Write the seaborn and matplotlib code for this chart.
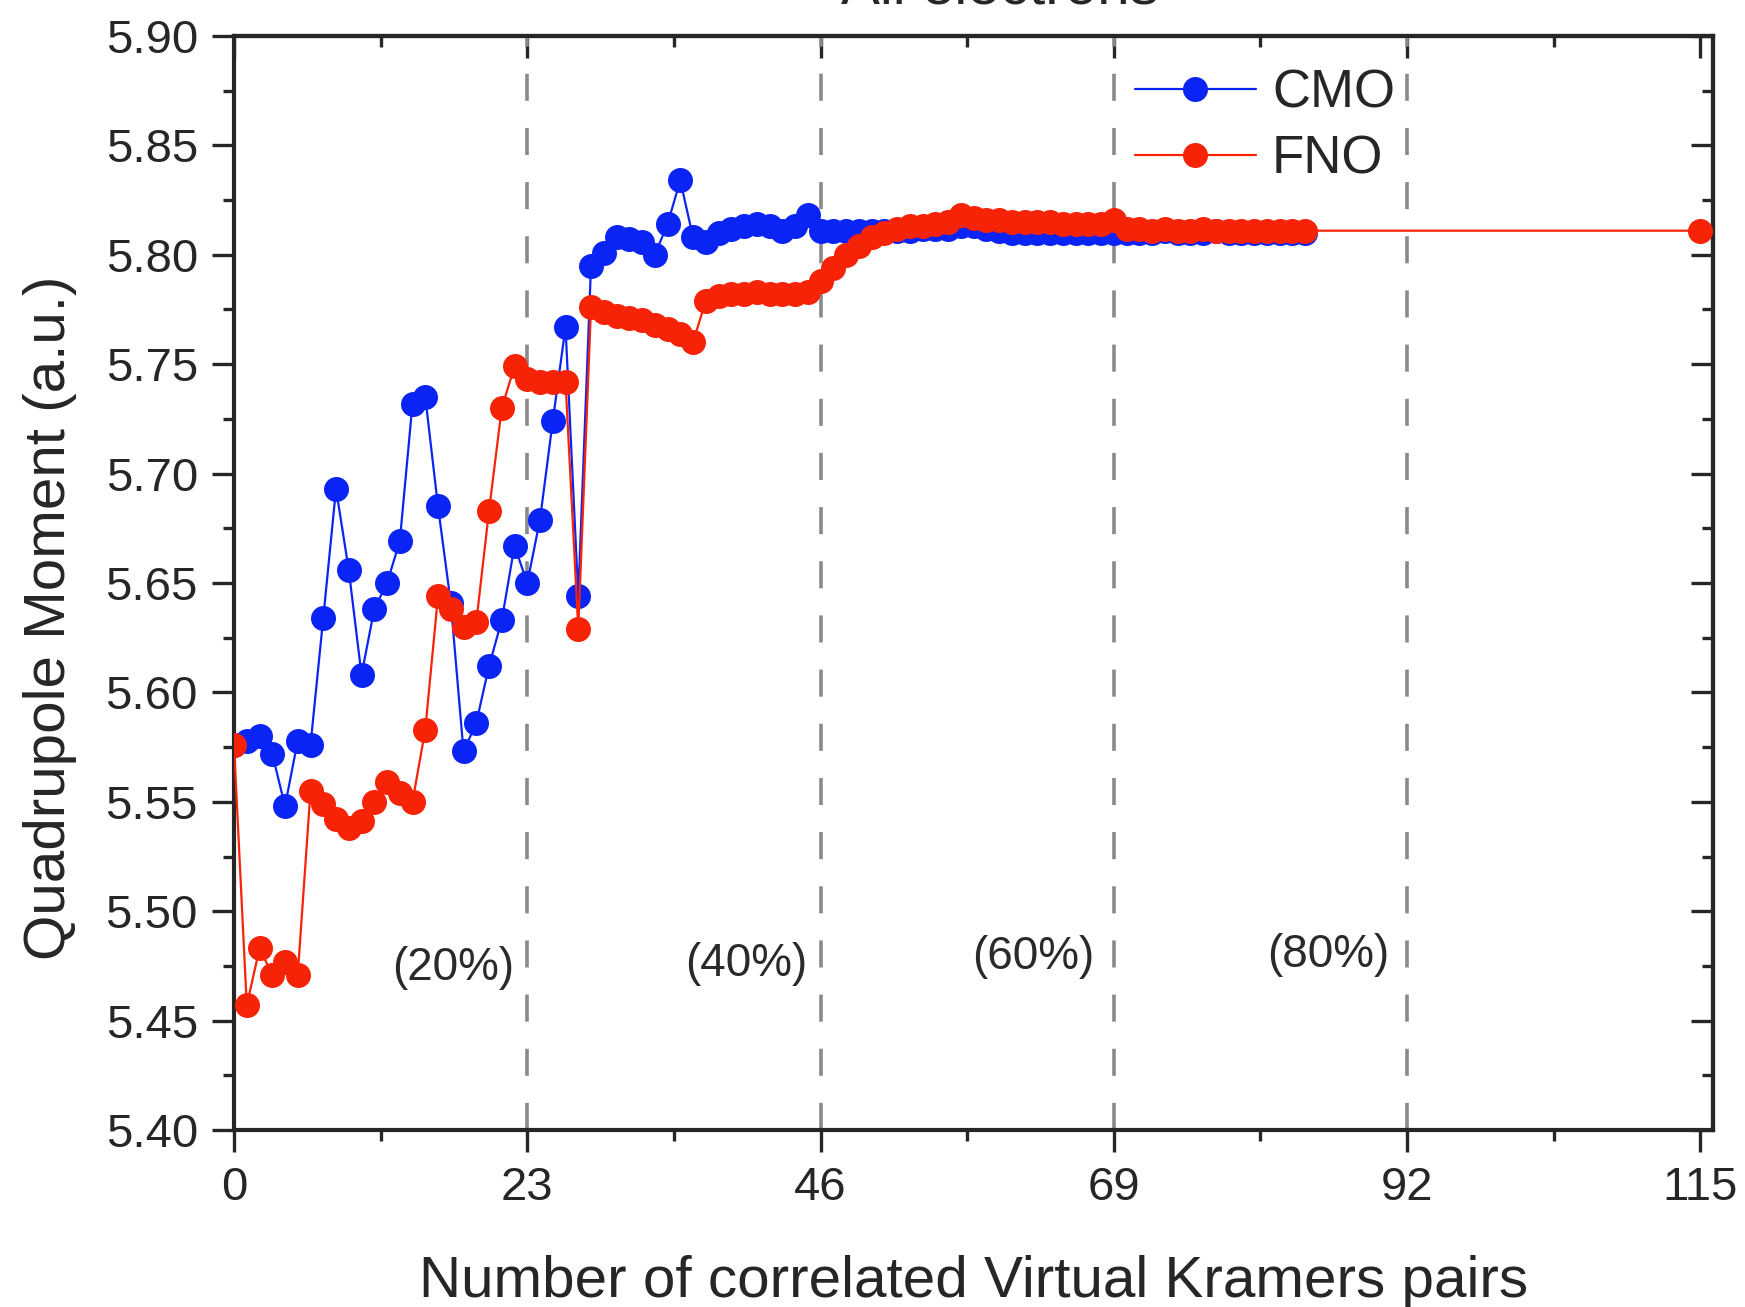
import numpy as np
import pandas as pd
import matplotlib
matplotlib.use("Agg")
import matplotlib.pyplot as plt
import seaborn as sns

blue = '#0b24f6'
red = '#f72306'
gray = '#8a8a8a'

# number of correlated pairs (one point per pair count)
pairs = list(range(85))

cmo = [5.576, 5.578, 5.580, 5.572, 5.548, 5.578, 5.576, 5.634, 5.693, 5.656,
       5.608, 5.638, 5.650, 5.669, 5.732, 5.735, 5.685, 5.641, 5.573, 5.586,
       5.612, 5.633, 5.667, 5.650, 5.679, 5.724, 5.767, 5.644, 5.795, 5.801,
       5.808, 5.807, 5.806, 5.800, 5.814, 5.834, 5.808, 5.806, 5.810, 5.812,
       5.813, 5.814, 5.813, 5.811, 5.813, 5.818, 5.811, 5.811, 5.811, 5.811,
       5.811, 5.811, 5.811, 5.811, 5.812, 5.812, 5.812, 5.813, 5.813, 5.812,
       5.811, 5.810, 5.810, 5.810, 5.810, 5.810, 5.810, 5.810, 5.810, 5.810,
       5.810, 5.810, 5.810, 5.811, 5.810, 5.810, 5.810, 5.811, 5.810, 5.810,
       5.810, 5.810, 5.810, 5.810, 5.810]

fno = [5.576, 5.457, 5.483, 5.471, 5.477, 5.471, 5.555, 5.549, 5.542, 5.538,
       5.541, 5.550, 5.559, 5.554, 5.550, 5.583, 5.644, 5.638, 5.630, 5.632,
       5.683, 5.730, 5.749, 5.743, 5.742, 5.742, 5.742, 5.629, 5.776, 5.774,
       5.772, 5.771, 5.770, 5.768, 5.766, 5.764, 5.760, 5.779, 5.781, 5.782,
       5.782, 5.783, 5.782, 5.782, 5.782, 5.783, 5.788, 5.794, 5.800, 5.804,
       5.808, 5.810, 5.812, 5.813, 5.813, 5.814, 5.815, 5.818, 5.817, 5.816,
       5.816, 5.815, 5.815, 5.815, 5.815, 5.814, 5.814, 5.814, 5.814, 5.816,
       5.812, 5.812, 5.811, 5.812, 5.811, 5.811, 5.812, 5.811, 5.811, 5.811,
       5.811, 5.811, 5.811, 5.811, 5.811]
fno_last_x = 115
fno_last = 5.811

region_x = [23, 46, 69, 92]
region_labels = ['(20%)', '(40%)', '(60%)', '(80%)']
label_pos_x = [17.2, 40.2, 62.7, 85.8]
label_pos_y = [5.474, 5.476, 5.479, 5.480]

cmo_df = pd.DataFrame({'pairs': pairs, 'Q': cmo})
fno_df = pd.DataFrame({'pairs': pairs + [fno_last_x], 'Q': fno + [fno_last]})

sns.set_style('ticks')
plt.rcParams['font.family'] = ['Liberation Sans', 'DejaVu Sans']

fig = plt.figure(figsize=(17.45, 13.07), dpi=100)
ax = fig.add_axes([0.1341, 0.1354, 0.8476, 0.8371])

for xv in region_x:
    ax.axvline(xv, color=gray, lw=2.6, linestyle=(0, (7.5, 7.5)), zorder=1)

sns.lineplot(data=cmo_df, x='pairs', y='Q', ax=ax, color=blue, lw=1.6,
             marker='o', markersize=18, markeredgewidth=0, sort=False,
             estimator=None, label='CMO', zorder=3)
sns.lineplot(data=fno_df, x='pairs', y='Q', ax=ax, color=red, lw=1.6,
             marker='o', markersize=18, markeredgewidth=0, sort=False,
             estimator=None, label='FNO', zorder=4)

for xt, yt, t in zip(label_pos_x, label_pos_y, region_labels):
    ax.text(xt, yt, t, ha='center', va='center', fontsize=33, color='#2a2a2a')

ax.set_xlim(0, 116)
ax.set_ylim(5.40, 5.90)
xmaj = [0, 23, 46, 69, 92, 115]
xmin = [11.5, 34.5, 57.5, 80.5, 103.5]
ymaj = np.round(np.arange(5.40, 5.901, 0.05), 2)
ymin = np.round(np.arange(5.425, 5.90, 0.05), 3)
ax.set_xticks(xmaj)
ax.set_xticks(xmin, minor=True)
ax.set_yticks(ymaj)
ax.set_yticks(ymin, minor=True)
ax.yaxis.set_major_formatter(matplotlib.ticker.FormatStrFormatter('%.2f'))

for s in ax.spines.values():
    s.set_linewidth(3)
    s.set_visible(True)

ax.tick_params(which='major', direction='out', length=16, width=2.4,
               labelsize=34, pad=10, top=False, right=False)
ax.tick_params(which='minor', direction='out', length=8, width=2.4,
               top=False, right=False)

# inward ticks on top and right
top = ax.secondary_xaxis('top')
top.set_xticks(xmaj)
top.set_xticks(xmin, minor=True)
top.set_xticklabels([])
right = ax.secondary_yaxis('right')
right.set_yticks(ymaj)
right.set_yticks(ymin, minor=True)
right.set_yticklabels([])
for sec, pos in [(top, 'top'), (right, 'right')]:
    sec.tick_params(which='major', direction='in', length=16, width=2.4, pad=0)
    sec.tick_params(which='minor', direction='in', length=8, width=2.4)
    sec.spines[pos].set_linewidth(3)

ax.set_xlabel('Number of correlated Virtual Kramers pairs', fontsize=42, labelpad=32)
ax.set_ylabel('Quadrupole Moment (a.u.)', fontsize=42)
ax.yaxis.set_label_coords(-0.106, 0.468)

ax.legend(loc='upper left', bbox_to_anchor=(0.609, 0.97), frameon=False,
          fontsize=38, handlelength=2.3, handletextpad=0.3, labelspacing=0.3,
          borderaxespad=0, borderpad=0)

fig.text(0.573, 1 - 4 / 1307, 'All electrons', ha='center', va='baseline', fontsize=42)

fig.savefig('out.png', dpi=100)
